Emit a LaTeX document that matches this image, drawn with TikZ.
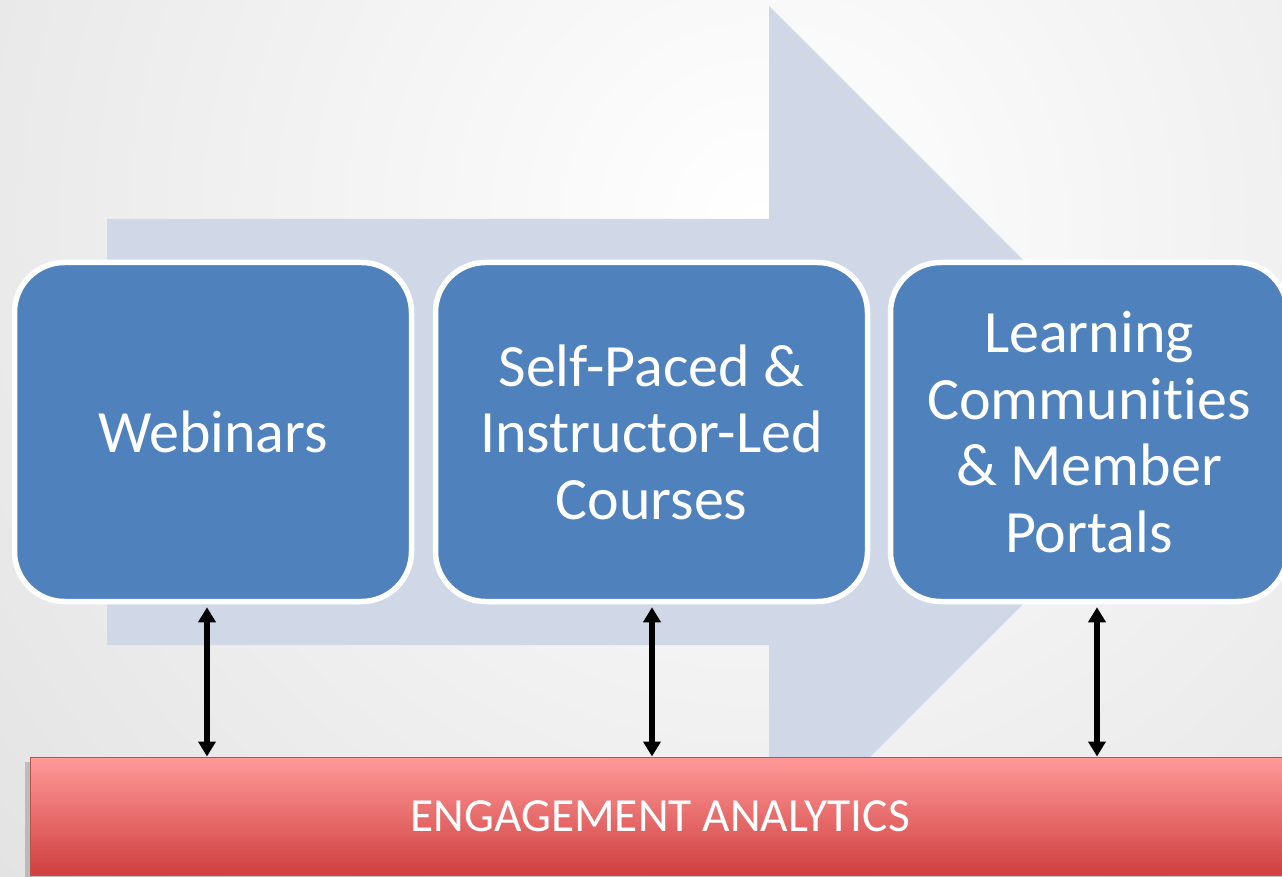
\documentclass[tikz,border=0pt]{standalone}
\usepackage{fontspec}
\setmainfont{Carlito}[Ligatures={NoCommon}]
\usetikzlibrary{arrows.meta}

\definecolor{boxblue}{HTML}{4F81BD}
\definecolor{flowblue}{HTML}{D0D8E8}
\definecolor{bartop}{HTML}{FF9A99}
\definecolor{barbottom}{HTML}{CF3F3F}
\definecolor{barline}{HTML}{C0504D}
\definecolor{bgedge}{HTML}{CDCDCD}

\begin{document}
\begin{tikzpicture}[x=1pt,y=-1pt,
    stage/.style={draw=white, line width=5.5pt, fill=boxblue, rounded corners=50pt,
        text=white, align=center, font=\fontsize{60}{66.5}\selectfont,
        minimum height=339pt, inner sep=0pt},
    bar/.style={draw=barline, line width=1pt, top color=bartop, bottom color=barbottom,
        text=white, font=\fontsize{47.5}{56}\selectfont,
        minimum width=1260pt, minimum height=118pt, inner sep=0pt},
    link/.style={{Triangle[width=17pt,length=15pt]}-{Triangle[width=17pt,length=15pt]},
        line width=6pt}]
    \useasboundingbox (0,0) rectangle (1282,877);
    % background
    \begin{scope}
        \clip (0,0) rectangle (1282,877);
        \fill[bgedge] (0,0) rectangle (1282,877);
        \shade[inner color=white, outer color=bgedge] (760,220) circle (1800);
    \end{scope}
    % big flow arrow
    \fill[flowblue] (107,219) -- (769,219) -- (769,6) -- (1195,432)
        -- (769,858) -- (769,645) -- (107,645) -- cycle;
    % stages
    \node[stage, minimum width=397pt] (webinars) at (213,432) {Webinars};
    \node[stage, minimum width=432pt] (courses) at (651.5,432)
        {Self-Paced \&\\Instructor-Led\\Courses};
    \node[stage, minimum width=397pt] (portals) at (1089,432)
        {Learning\\Communities\\\& Member\\Portals};
    % analytics bar
    \fill[black, opacity=.18] (25,762) rectangle (1295,882);
    \node[bar] (analytics) at (660,816) {ENGAGEMENT ANALYTICS};
    % links
    \draw[link] ([shift={(-6,3)}]webinars.south) -- ([xshift=-6pt]webinars.south |- analytics.north);
    \draw[link] ([shift={(0.5,3)}]courses.south) -- ([xshift=0.5pt]courses.south |- analytics.north);
    \draw[link] ([shift={(8,3)}]portals.south) -- ([xshift=8pt]portals.south |- analytics.north);
\end{tikzpicture}
\end{document}
